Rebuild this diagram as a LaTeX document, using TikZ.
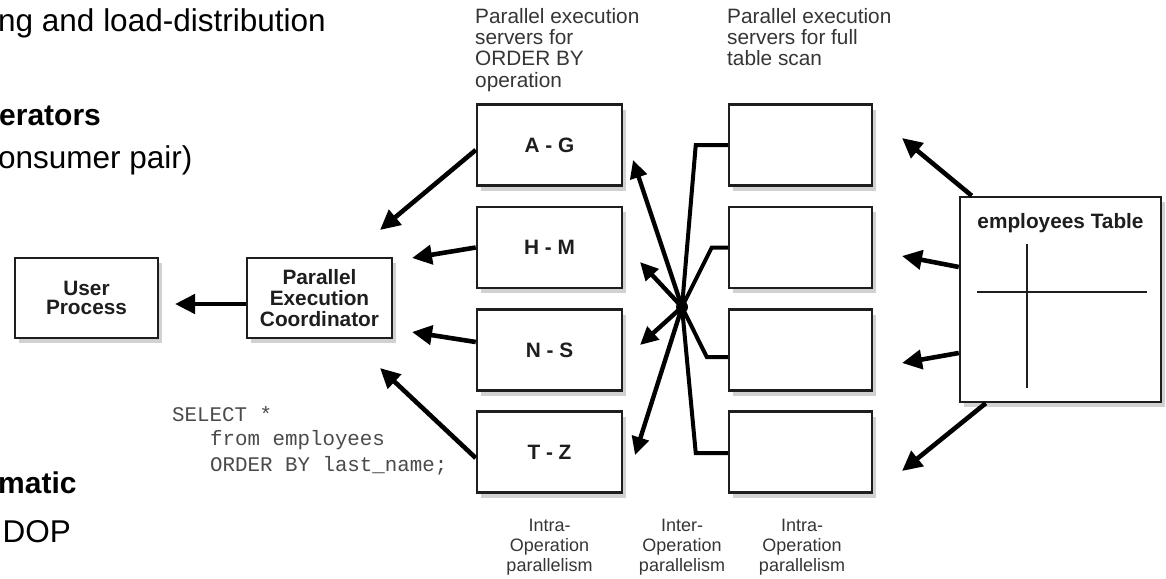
\documentclass[tikz,border=0pt]{standalone}
\usepackage{fontspec}
\setmainfont{Liberation Sans}
\newfontfamily\sqlfont{Liberation Mono}
\usetikzlibrary{arrows.meta,shadows}
\definecolor{ink}{HTML}{1E1E1E}
\definecolor{sqlgray}{HTML}{4A4A4A}
\begin{document}
\begin{tikzpicture}[x=1pt,y=-1pt,
  box/.style={draw=ink, line width=2.5pt, fill=white, inner sep=0pt, align=center,
    minimum width=145pt, minimum height=81pt, text=ink,
    font=\fontsize{20.8}{20}\selectfont\bfseries,
    drop shadow={shadow xshift=4pt,shadow yshift=-5pt,fill=black!18,opacity=1}},
  arr/.style={line width=4.6pt, draw=black, -{Triangle[length=20pt,width=19pt]}},
  harr/.style={line width=4.4pt, draw=black, -{Triangle[length=18pt,width=17pt]}},
  elbow/.style={line width=4pt, draw=black, line join=miter},
  toplabel/.style={anchor=north west, inner sep=0pt, align=left, text=ink!90,
    font=\fontsize{20.8}{21.3}\selectfont},
  botlabel/.style={anchor=north, inner sep=0pt, align=center, text=ink!90,
    font=\fontsize{18}{20.3}\selectfont},
  sidetext/.style={anchor=base west, inner sep=0pt, text=black,
    font=\fontsize{31.5}{36}\selectfont},
  sidebold/.style={sidetext, font=\fontsize{30}{36}\selectfont\bfseries},
  sqltext/.style={anchor=base west, inner sep=0pt, text=sqlgray,
    font=\fontsize{20.8}{25}\sqlfont}
]
\useasboundingbox (0,0) rectangle (1166,578);

% cropped side text
\node[sidetext] (s1) at (-2,32) {ng and load-distribution};
\node[sidebold] (s2) at (-1,125) {erators};
\node[sidetext] (s3) at (-2,168) {onsumer pair)};
\node[sidebold] (s4) at (-2,493) {matic};
\node[sidetext] (s5) at (2.5,542) {DOP};

% boxes
\node[box, minimum width=143pt, minimum height=80pt, font=\fontsize{20.8}{18.5}\selectfont\bfseries] (user) at (86.5,298) {User\\Process};
\node[box, minimum height=80pt, font=\fontsize{20.8}{21}\selectfont\bfseries] (coord) at (319.5,298) {Parallel\\Execution\\Coordinator};

\node[box] (ag) at (549.5,145) {A - G};
\node[box] (hm) at (549.5,247.5) {H - M};
\node[box] (ns) at (549.5,350) {N - S};
\node[box] (tz) at (549.5,452) {T - Z};

\node[box, minimum width=143pt] (r1) at (800.5,145) {};
\node[box, minimum width=143pt] (r2) at (800.5,247.5) {};
\node[box, minimum width=143pt] (r3) at (800.5,350) {};
\node[box, minimum width=143pt] (r4) at (800.5,452) {};

\node[box, minimum width=201pt, minimum height=205pt] (tab) at (1060.5,299.5) {};
\node[anchor=base, inner sep=0pt, text=ink, font=\fontsize{20.8}{24}\selectfont\bfseries] (tabtitle) at (1060.5,228) {employees Table};
\coordinate (vt) at (1027,244);
\coordinate (vb) at (1027,388);
\coordinate (hl) at (977,292);
\coordinate (hr) at (1147,292);
\draw[line width=2.6pt, draw=ink] (vt) -- (vb);
\draw[line width=2.6pt, draw=ink] (hl) -- (hr);

% labels
\node[toplabel] (lab1) at (475,8) {Parallel execution\\servers for\\ORDER BY\\operation};
\node[toplabel] (lab2) at (727,8) {Parallel execution\\servers for full\\table scan};
\node[botlabel] (b1) at (549.5,518.5) {Intra-\\Operation\\parallelism};
\node[botlabel] (b2) at (682,518.5) {Inter-\\Operation\\parallelism};
\node[botlabel] (b3) at (802,518.5) {Intra-\\Operation\\parallelism};

% SQL
\node[sqltext] (q1) at (172,421) {SELECT *};
\node[sqltext] (q2) at (210,445) {from employees};
\node[sqltext] (q3) at (210,471) {ORDER BY last\_name;};

% coordinator -> user
\coordinate (tUser) at (175,304);
\draw[arr] ([yshift=-6pt]coord.west) -- (tUser);

% sort servers -> coordinator
\coordinate (tAG) at (380,230);
\coordinate (tHM) at (412,258);
\coordinate (tNS) at (412,332);
\coordinate (tTZ) at (380,368);
\draw[arr] ([yshift=-5pt]ag.west) -- (tAG);
\draw[arr] (hm.west) -- (tHM);
\draw[arr] ([yshift=8pt]ns.west) -- (tNS);
\draw[arr] ([yshift=-6pt]tz.west) -- (tTZ);

% hub
\coordinate (hub) at (682,307);
\coordinate (hAG) at (633,160);
\coordinate (hHM) at (640,262);
\coordinate (hNS) at (640,345);
\coordinate (hTZ) at (635,455);
\draw[elbow] (hub) -- ([xshift=-32pt]r1.west) -- (r1.west);
\draw[elbow] (hub) -- ([xshift=-16pt]r2.west) -- (r2.west);
\draw[elbow] (hub) -- ([xshift=-21pt,yshift=-7pt]r3.west) -- ([yshift=-7pt]r3.west);
\draw[elbow] (hub) -- ([xshift=-32pt,yshift=-1pt]r4.west) -- ([yshift=-1pt]r4.west);
\draw[harr] (hub) -- (hAG);
\draw[harr] (hub) -- (hHM);
\draw[harr] (hub) -- (hNS);
\draw[harr] (hub) -- (hTZ);
\fill[black] (hub) circle (6pt);

% table -> scan servers
\coordinate (t1) at (902,138);
\coordinate (t2) at (902,256);
\coordinate (t3) at (902,363);
\coordinate (t4) at (902,471);
\draw[arr] ([xshift=13pt]tab.north west) -- (t1);
\draw[arr] ([yshift=32.5pt]tab.west) -- (t2);
\draw[arr] ([yshift=-53.5pt]tab.west) -- (t3);
\draw[arr] ([xshift=27pt]tab.south west) -- (t4);
\end{tikzpicture}
\end{document}
